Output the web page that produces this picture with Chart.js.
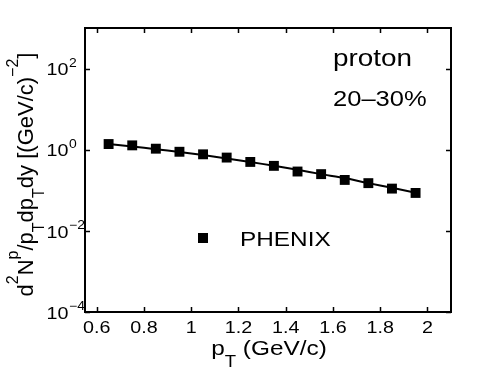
<!DOCTYPE html>
<html>
<head>
<meta charset="utf-8">
<script src="https://cdn.jsdelivr.net/npm/chart.js@4/dist/chart.umd.min.js"></script>
<style>
  body { margin: 0; background: #fff; }
  #wrap { width: 498px; height: 375px; position: relative; }
</style>
</head>
<body>
<div id="wrap"><canvas id="specChart"></canvas></div>
<script>
// pT bin centres (GeV/c) and proton yields, 20-30% centrality
const ptBins = [0.65, 0.75, 0.85, 0.95, 1.05, 1.15, 1.25, 1.35, 1.45, 1.55, 1.65, 1.75, 1.85, 1.95];
const phenixYield = [1.38, 1.28, 1.06, 0.89, 0.77, 0.64, 0.50, 0.40, 0.29, 0.25, 0.18, 0.15, 0.11, 0.086];
const modelYield = [1.38, 1.20, 1.03, 0.88, 0.74, 0.61, 0.50, 0.40, 0.32, 0.25, 0.20, 0.15, 0.115, 0.087];

const xTickValues = [0.6, 0.8, 1, 1.2, 1.4, 1.6, 1.8, 2];
const yTickValues = [1e-4, 1e-2, 1, 1e2];

const FONT = '"Liberation Sans", Arial, Helvetica, sans-serif';
const SX = 1.16; // the figure's text is a bit wider than plain Arial

function drawText(ctx, s, x, y, size, align, sx) {
    sx = sx || SX;
    ctx.save();
    ctx.font = size + 'px ' + FONT;
    const w = ctx.measureText(s).width * sx;
    let x0 = x;
    if (align === 'right') x0 = x - w;
    else if (align === 'center') x0 = x - w / 2;
    ctx.translate(x0, y);
    ctx.scale(sx, 1);
    ctx.textAlign = 'left';
    ctx.textBaseline = 'alphabetic';
    ctx.fillText(s, 0, 0);
    ctx.restore();
    return w;
}

// parts: [text, size, dy]
function richWidth(ctx, parts, sx) {
    let w = 0;
    parts.forEach(p => {
        ctx.font = p[1] + 'px ' + FONT;
        w += ctx.measureText(p[0]).width * sx;
    });
    return w;
}

function drawRich(ctx, parts, x, y, sx) {
    let cx = x;
    parts.forEach(p => {
        cx += drawText(ctx, p[0], cx, y + p[2], p[1], 'left', sx);
    });
}

const framePlugin = {
    id: 'frame',
    afterDraw(chart) {
        const ctx = chart.ctx;
        const a = chart.chartArea;
        const xs = chart.scales.x;
        const ys = chart.scales.y;
        ctx.save();
        ctx.fillStyle = '#000';
        ctx.strokeStyle = '#000';

        // ticks, inward on all four sides
        ctx.lineWidth = 1.5;
        ctx.beginPath();
        xTickValues.forEach(v => {
            const px = Math.round(xs.getPixelForValue(v)) + 0.5;
            ctx.moveTo(px, a.bottom); ctx.lineTo(px, a.bottom - 5);
            ctx.moveTo(px, a.top); ctx.lineTo(px, a.top + 5);
        });
        yTickValues.forEach(v => {
            const py = Math.round(ys.getPixelForValue(v)) + 0.5;
            ctx.moveTo(a.left, py); ctx.lineTo(a.left + 5, py);
            ctx.moveTo(a.right, py); ctx.lineTo(a.right - 5, py);
        });
        ctx.stroke();

        // box
        ctx.lineWidth = 2;
        ctx.strokeRect(a.left, a.top, a.right - a.left, a.bottom - a.top);

        // x tick labels
        xTickValues.forEach(v => {
            drawText(ctx, String(v), xs.getPixelForValue(v), a.bottom + 21, 17, 'center');
        });

        // y tick labels 10^n
        yTickValues.forEach(v => {
            const py = ys.getPixelForValue(v);
            const e = Math.round(Math.log10(v));
            drawText(ctx, '10', a.left - 16.5, py + 6.7, 17, 'right');
            drawText(ctx, String(e).replace('-', '\u2212'), a.left - 16, py - 1.7, 12, 'left');
        });

        // x title
        const xParts = [['p', 21, 0], ['T', 16, 12], [' (GeV/c)', 21, 0]];
        const xw = richWidth(ctx, xParts, SX);
        drawRich(ctx, xParts, (a.left + a.right) / 2 + 1 - xw / 2, 355, SX);

        // y title, rotated
        const yParts = [['d', 22, 0], ['2', 16, -15], ['N', 22, 0], ['p', 16, -15], ['/p', 22, 0],
            ['T', 16, 11], ['dp', 22, 0], ['T', 16, 11], ['dy [(GeV/c)', 22, 0], ['\u22122', 16, -15], [']', 22, 0]];
        const yw = richWidth(ctx, yParts, 1);
        ctx.save();
        ctx.translate(33, 174.5);
        ctx.rotate(-Math.PI / 2);
        drawRich(ctx, yParts, -yw / 2, 0, 1);
        ctx.restore();

        // labels inside the frame
        drawText(ctx, 'proton', 333, 66, 24, 'left');
        drawText(ctx, '20\u201330%', 333, 106, 22, 'left');

        // legend
        ctx.fillRect(198, 233, 10, 10);
        drawText(ctx, 'PHENIX', 240, 246, 21, 'left');
        ctx.restore();
    }
};

document.addEventListener('DOMContentLoaded', function () {
    const ctx = document.getElementById('specChart').getContext('2d');

    new Chart(ctx, {
        type: 'line',
        data: {
            datasets: [{
                label: 'PHENIX',
                data: ptBins.map((x, i) => ({ x: x, y: phenixYield[i] })),
                showLine: false,
                pointStyle: 'rect',
                pointRadius: 7,
                pointBorderWidth: 0,
                backgroundColor: '#000',
                borderColor: '#000'
            }, {
                label: 'model',
                data: ptBins.map((x, i) => ({ x: x, y: modelYield[i] })),
                borderColor: '#000',
                borderWidth: 2,
                pointRadius: 0,
                tension: 0.2,
                fill: false
            }]
        },
        options: {
            responsive: true,
            maintainAspectRatio: false,
            animation: false,
            layout: { padding: { top: 28, right: 47, left: 0, bottom: 0 } },
            plugins: {
                legend: { display: false },
                tooltip: { enabled: false }
            },
            scales: {
                x: {
                    type: 'linear',
                    min: 0.55,
                    max: 2.1,
                    grid: { display: false },
                    border: { display: false },
                    ticks: { display: false },
                    afterBuildTicks: s => { s.ticks = xTickValues.map(v => ({ value: v })); },
                    afterFit: s => { s.height = 63; }
                },
                y: {
                    type: 'logarithmic',
                    min: 1e-4,
                    max: 1e3,
                    grid: { display: false },
                    border: { display: false },
                    ticks: { display: false },
                    afterBuildTicks: s => { s.ticks = yTickValues.map(v => ({ value: v })); },
                    afterFit: s => { s.width = 85; }
                }
            }
        },
        plugins: [framePlugin]
    });
});
</script>
</body>
</html>
